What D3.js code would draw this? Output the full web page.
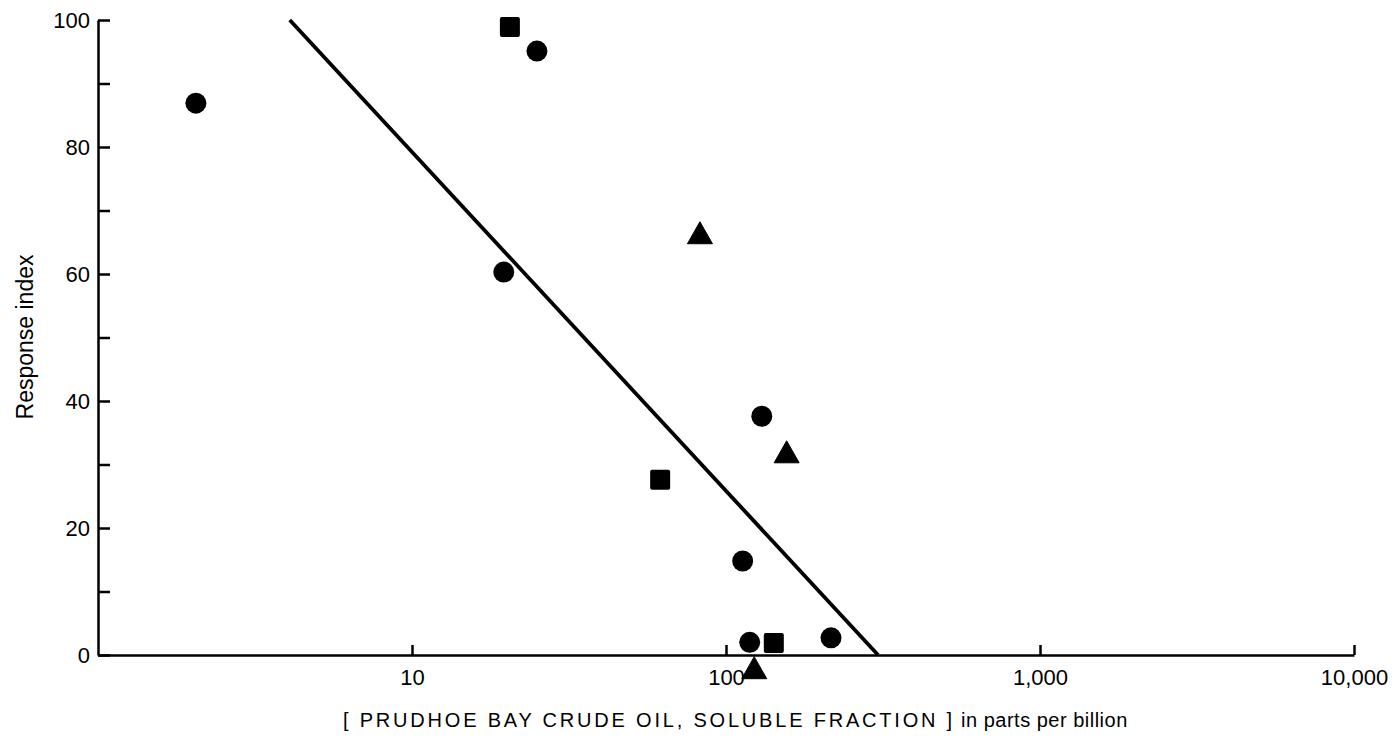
<!DOCTYPE html>
<html>
<head>
<meta charset="utf-8">
<script src="https://cdn.jsdelivr.net/npm/d3@7"></script>
<style>
  body { margin: 0; background: #fff; }
  text { font-family: "Liberation Sans", Arial, sans-serif; fill: #000; }
</style>
</head>
<body>
<div id="chart"></div>
<script>
// data (x in ppb, y = response index)
const circleX = [2.05, 25.0, 19.6, 130, 113, 119, 216];
const circleY = [86.9, 95.1, 60.3, 37.6, 14.8, 2.0, 2.7];
const squareX = [20.5, 61.7, 142];
const squareY = [98.9, 27.6, 1.9];
const triangleX = [82.6, 156, 123];
const triangleY = [66.5, 32.0, -2.0];
const fitX = [4.08, 305];
const fitY = [100, 0];
const xTicks = [10, 100, 1000, 10000];
const yTicks = [0, 10, 20, 30, 40, 50, 60, 70, 80, 90, 100];
const yLabels = [0, 20, 40, 60, 80, 100];

const width = 1394, height = 742;

const svg = d3.select("#chart")
    .append("svg")
    .attr("width", width)
    .attr("height", height);

const x = d3.scaleLog()
    .domain([1, 10000])
    .range([98, 1354]);

const y = d3.scaleLinear()
    .domain([0, 100])
    .range([655, 20]);

// y axis, ticks point inward
const yAxis = svg.append("g")
    .attr("transform", `translate(${x(1)},0)`)
    .call(d3.axisLeft(y)
        .tickValues(yTicks)
        .tickSizeInner(-12)
        .tickSizeOuter(0)
        .tickPadding(8)
        .tickFormat(d => yLabels.includes(d) ? d : ""));
yAxis.selectAll("path, line").attr("stroke", "#000").attr("stroke-width", 2.5);
yAxis.selectAll("text").style("font-size", "22px");

// x axis
const xAxis = svg.append("g")
    .attr("transform", `translate(0,${y(0)})`)
    .call(d3.axisBottom(x)
        .tickValues(xTicks)
        .tickSizeInner(-10)
        .tickSizeOuter(0)
        .tickPadding(14)
        .tickFormat(d3.format(",")));
xAxis.selectAll("path, line").attr("stroke", "#000").attr("stroke-width", 2.5);
xAxis.selectAll("text").style("font-size", "22px");

// axis titles
svg.append("text")
    .attr("transform", "rotate(-90)")
    .attr("x", -337)
    .attr("y", 33)
    .attr("text-anchor", "middle")
    .style("font-size", "23px")
    .text("Response index");

const title = svg.append("text")
    .attr("x", 343)
    .attr("y", 727)
    .attr("text-anchor", "start");
title.append("tspan")
    .style("font-size", "20px")
    .style("letter-spacing", "2.8px")
    .text("[ PRUDHOE BAY CRUDE OIL, SOLUBLE FRACTION ]");
title.append("tspan")
    .style("font-size", "20px")
    .style("letter-spacing", "0.5px")
    .text(" in parts per billion");

// fitted line
const line = d3.line()
    .x(d => x(d[0]))
    .y(d => y(d[1]));

svg.append("path")
    .datum(d3.zip(fitX, fitY))
    .attr("d", line)
    .attr("fill", "none")
    .attr("stroke", "#000")
    .attr("stroke-width", 3.8);

// markers
svg.selectAll(".circle")
    .data(d3.zip(circleX, circleY))
    .enter()
    .append("circle")
    .attr("class", "circle")
    .attr("cx", d => x(d[0]))
    .attr("cy", d => y(d[1]))
    .attr("r", 10.5)
    .attr("fill", "#000");

svg.selectAll(".square")
    .data(d3.zip(squareX, squareY))
    .enter()
    .append("rect")
    .attr("class", "square")
    .attr("x", d => x(d[0]) - 10)
    .attr("y", d => y(d[1]) - 10)
    .attr("width", 20)
    .attr("height", 20)
    .attr("rx", 2)
    .attr("fill", "#000");

svg.selectAll(".triangle")
    .data(d3.zip(triangleX, triangleY))
    .enter()
    .append("path")
    .attr("class", "triangle")
    .attr("d", d => {
        const cx = x(d[0]), cy = y(d[1]);
        return `M${cx},${cy - 11}L${cx + 12.5},${cy + 11}L${cx - 12.5},${cy + 11}Z`;
    })
    .attr("fill", "#000")
    .attr("stroke", "#000")
    .attr("stroke-linejoin", "round")
    .attr("stroke-width", 1);
</script>
</body>
</html>
